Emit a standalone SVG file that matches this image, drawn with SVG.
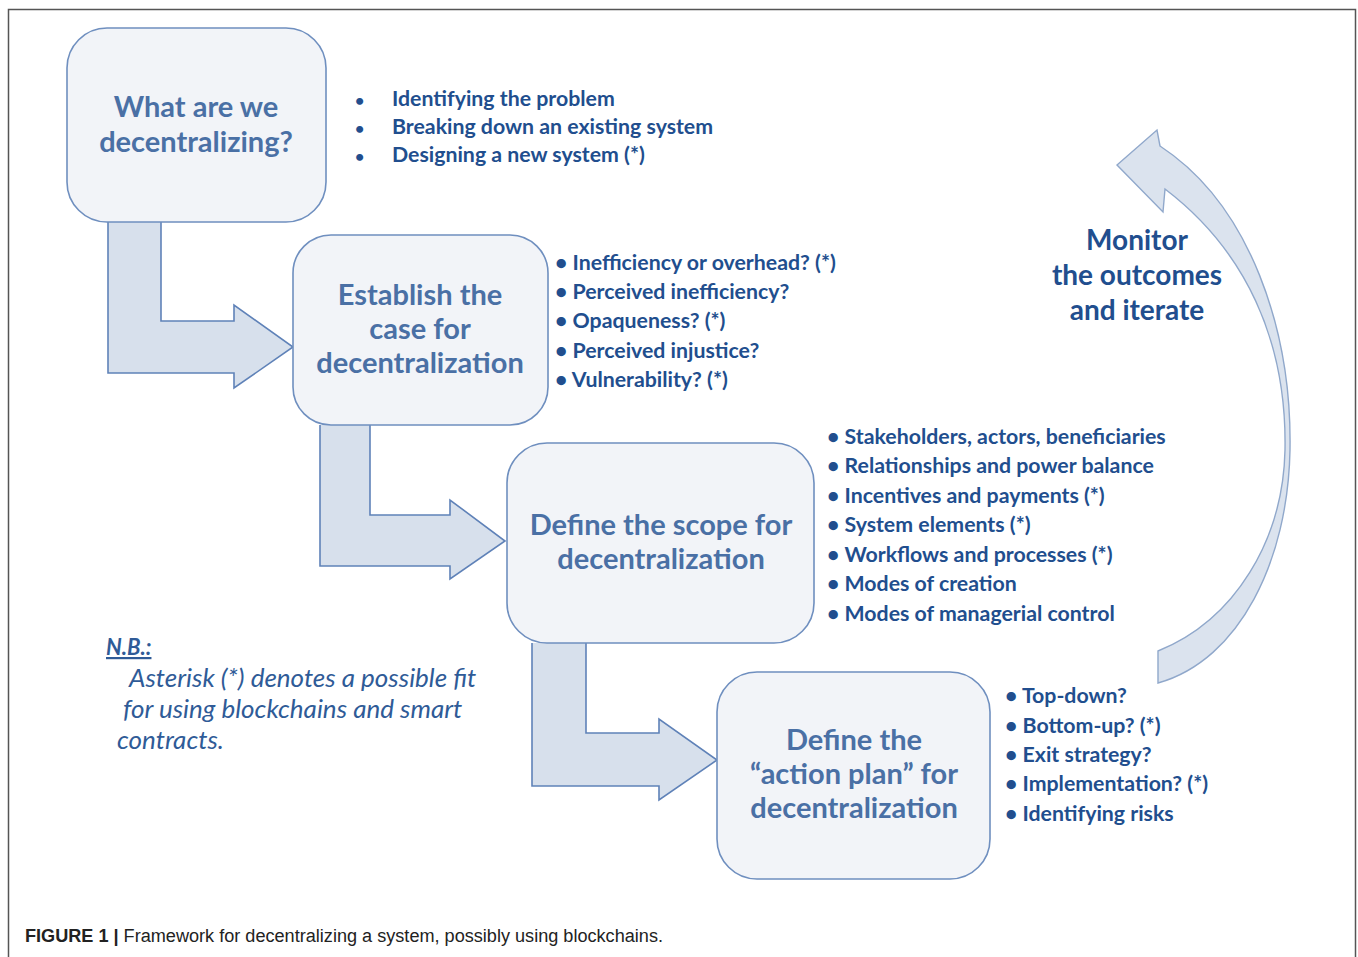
<svg xmlns="http://www.w3.org/2000/svg" width="1358" height="957" viewBox="0 0 1358 957">
<style>
.box{fill:#f2f4f8;stroke:#6f8fbf;stroke-width:1.6}
.arr{fill:#d7e0ec;stroke:#5f82b8;stroke-width:1.6;stroke-linejoin:miter}
.bt{font-family:Lato,"Liberation Sans",sans-serif;font-weight:bold;font-size:29px;fill:#4a70a5;text-anchor:middle}
.li{font-family:Lato,"Liberation Sans",sans-serif;font-weight:bold;font-size:21.3px;fill:#214e8e}
.mon{font-family:Lato,"Liberation Sans",sans-serif;font-weight:bold;font-size:28px;fill:#214e8e;text-anchor:middle}
.nb{font-family:Lato,"Liberation Sans",sans-serif;font-style:italic;font-size:26px;fill:#2f5b97}
.cap{font-family:"Liberation Sans",Arial,sans-serif;font-size:18px;fill:#222}
</style>
<rect x="0" y="0" width="1358" height="957" fill="#fff"/>
<path d="M8.5,957 V9.5 H1355.5 V957" fill="none" stroke="#555" stroke-width="1.5"/>
<g id="connectors">
<path class="arr" d="M108,222 V373 H234 V388 L293,347 L234,305 V321 H161 V222"/>
<path class="arr" d="M320,425 V566 H450 V579 L505,541 L450,500 V515 H370 V425"/>
<path class="arr" d="M532,643 V786 H659 V800 L717,760 L659,719 V733 H586 V643"/>
<path id="loop" d="M1160,146 C1250,205 1292,330 1290,450 C1288,560 1240,660 1158,683 L1158,651 C1235,620 1283,540 1285,450 C1287,340 1245,250 1165,189 L1163,212 L1117,165 L1157,130 Z" fill="#dbe3ee" stroke="#90a8cb" stroke-width="1.4"/>
</g>
<g id="node1">
<rect class="box" x="67" y="28" width="259" height="194" rx="40"/>
<text class="bt" x="196" y="117">What are we</text>
<text class="bt" x="196" y="152">decentralizing?</text>
</g>
<g id="list1" class="li">
<text x="355" y="106" font-size="16">•</text><text x="392" y="106">Identifying the problem</text>
<text x="355" y="134" font-size="16">•</text><text x="392" y="134">Breaking down an existing system</text>
<text x="355" y="162" font-size="16">•</text><text x="392" y="162">Designing a new system (*)</text>
</g>
<g id="node2">
<rect class="box" x="293" y="235" width="255" height="190" rx="38"/>
<text class="bt" x="420" y="305">Establish the</text>
<text class="bt" x="420" y="339">case for</text>
<text class="bt" x="420" y="373">decentralization</text>
</g>
<g id="list2" class="li">
<text x="555" y="270">• Inefficiency or overhead? (*)</text>
<text x="555" y="299">• Perceived inefficiency?</text>
<text x="555" y="328">• Opaqueness? (*)</text>
<text x="555" y="358">• Perceived injustice?</text>
<text x="555" y="387">• Vulnerability? (*)</text>
</g>
<g id="node3">
<rect class="box" x="507" y="443" width="307" height="200" rx="40"/>
<text class="bt" x="661" y="535">Define the scope for</text>
<text class="bt" x="661" y="569">decentralization</text>
</g>
<g id="list3" class="li">
<text x="827" y="444">• Stakeholders, actors, beneficiaries</text>
<text x="827" y="473">• Relationships and power balance</text>
<text x="827" y="503">• Incentives and payments (*)</text>
<text x="827" y="532">• System elements (*)</text>
<text x="827" y="562">• Workflows and processes (*)</text>
<text x="827" y="591">• Modes of creation</text>
<text x="827" y="621">• Modes of managerial control</text>
</g>
<g id="node4">
<rect class="box" x="717" y="672" width="273" height="207" rx="40"/>
<text class="bt" x="854" y="750">Define the</text>
<text class="bt" x="854" y="784">“action plan” for</text>
<text class="bt" x="854" y="818">decentralization</text>
</g>
<g id="list4" class="li">
<text x="1005" y="703">• Top-down?</text>
<text x="1005" y="733">• Bottom-up? (*)</text>
<text x="1005" y="762">• Exit strategy?</text>
<text x="1005" y="791">• Implementation? (*)</text>
<text x="1005" y="821">• Identifying risks</text>
</g>
<g id="monitor">
<text class="mon" x="1137" y="250">Monitor</text>
<text class="mon" x="1137" y="285">the outcomes</text>
<text class="mon" x="1137" y="320">and iterate</text>
</g>
<g id="note">
<text class="nb" x="106" y="655" style="font-weight:bold;font-size:22px;text-decoration:underline">N.B.:</text>
<text class="nb" x="129" y="687">Asterisk (*) denotes a possible fit</text>
<text class="nb" x="123" y="718">for using blockchains and smart</text>
<text class="nb" x="117" y="749">contracts.</text>
</g>
<text class="cap" x="25" y="942" textLength="638" lengthAdjust="spacingAndGlyphs"><tspan font-weight="bold">FIGURE 1 |</tspan> Framework for decentralizing a system, possibly using blockchains.</text>
</svg>
